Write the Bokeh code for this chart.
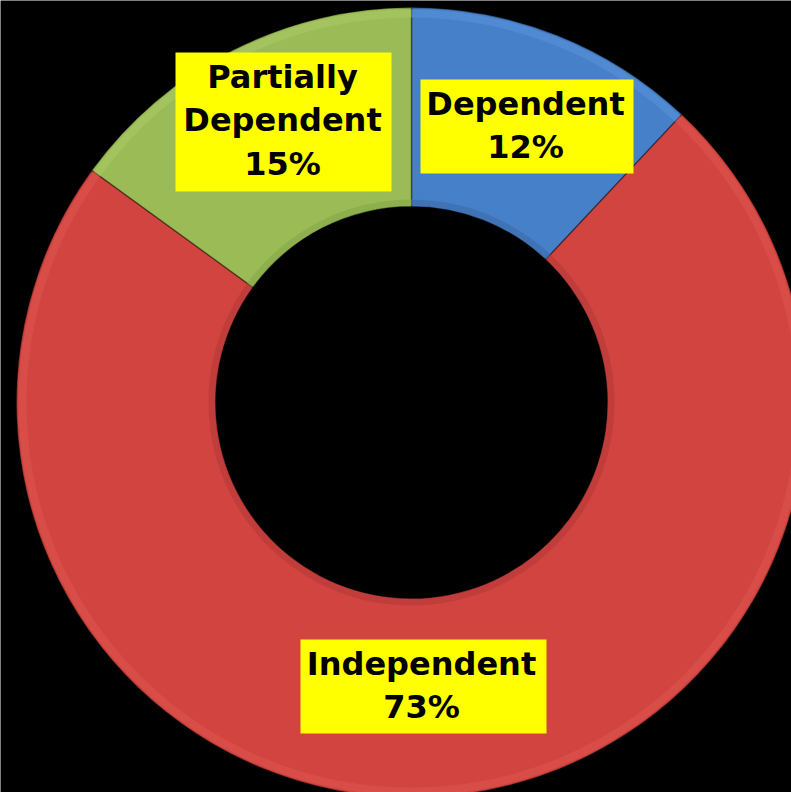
import numpy as np
from bokeh.plotting import figure
from bokeh.models import Range1d, ColumnDataSource
from bokeh.core.properties import value
from bokeh.embed import file_html
from bokeh.resources import INLINE

# ---- data ----
categories = ["Dependent", "Independent", "Partially\nDependent"]
shares = [12, 73, 15]
colors = ["#4680c8", "#d1443f", "#9abb55"]
rim_colors = ["#5a94dc", "#e0554f", "#aacb66"]
dark_colors = ["#3a6aa8", "#b5393a", "#87a647"]

W, H = 791, 792
p = figure(width=W, height=H, output_backend="svg", toolbar_location=None,
           x_range=Range1d(-411, 380), y_range=Range1d(-390, 402),
           min_border=0, background_fill_color="black", border_fill_color="black")
p.axis.visible = False
p.grid.visible = False
p.outline_line_color = None

R_OUT, R_IN = 395, 196
frac = np.array(shares, dtype=float) / sum(shares)
cum = np.concatenate([[0], np.cumsum(frac)])
start = np.pi / 2 - cum[:-1] * 2 * np.pi
end = np.pi / 2 - cum[1:] * 2 * np.pi

src = ColumnDataSource(dict(start=start, end=end, color=colors, rim=rim_colors, dark=dark_colors))
# main slices
p.annular_wedge(x=0, y=0, inner_radius=R_IN, outer_radius=R_OUT, start_angle="start",
                end_angle="end", direction="clock", fill_color="color",
                line_color="black", line_alpha=0.35, line_width=1.5, source=src)
# bevel: lighter outer rim, darker inner rim
p.annular_wedge(x=0, y=0, inner_radius=R_OUT - 10, outer_radius=R_OUT - 2, start_angle="start",
                end_angle="end", direction="clock", fill_color="rim", fill_alpha=0.5,
                line_color=None, source=src)
p.annular_wedge(x=0, y=0, inner_radius=R_IN + 1, outer_radius=R_IN + 7, start_angle="start",
                end_angle="end", direction="clock", fill_color="dark", fill_alpha=0.6,
                line_color=None, source=src)

# ---- labels ----
label_text = [f"{c}\n{s}%" for c, s in zip(categories, shares)]
# box extents (left, right, bottom, top) and text centre, in chart units
box_l = [9, -111, -236]
box_r = [222, 135, -20]
box_b = [229, -331, 211]
box_t = [323, -237, 350]
txt_x = [114, 10, -129]
txt_y = [277, -283, 282]
p.quad(left=box_l, right=box_r, bottom=box_b, top=box_t, fill_color="#ffff00", line_color=None)
p.text(x=txt_x, y=txt_y, text=label_text, text_font=value("DejaVu Sans"),
       text_font_style="bold", text_font_size="32px", text_align="center",
       text_baseline="middle", text_line_height=1.15, text_color="black")

html = file_html(p, INLINE)
open("out.html", "w").write(html)
